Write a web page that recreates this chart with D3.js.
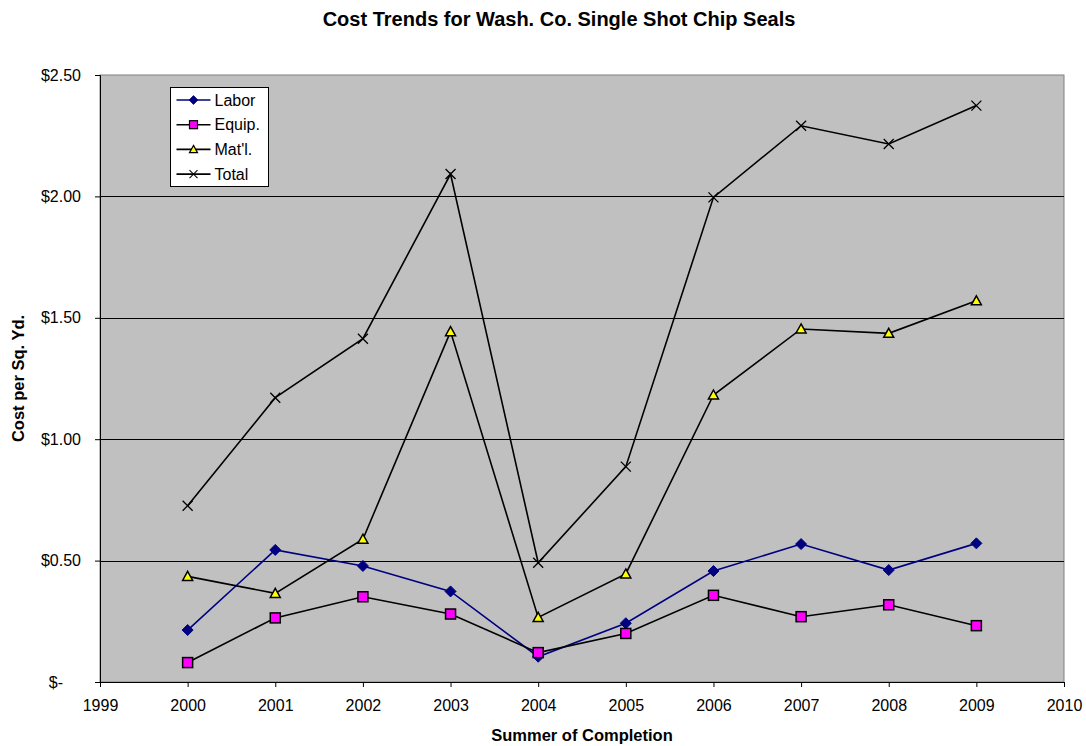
<!DOCTYPE html>
<html>
<head>
<meta charset="utf-8">
<script src="https://cdn.jsdelivr.net/npm/d3@7"></script>
<style>
	body { margin: 0; background: #fff; }
	svg text { font-family: "Liberation Sans", Arial, sans-serif; }
	.axis path, .axis line { stroke: #000; }
	.grid line { stroke: #000; stroke-width: 1; }
</style>
</head>
<body>
<svg id="chart" width="1086" height="746"></svg>
<script>
// data
var years = [2000, 2001, 2002, 2003, 2004, 2005, 2006, 2007, 2008, 2009];
var labor = [0.214, 0.544, 0.478, 0.373, 0.104, 0.242, 0.457, 0.568, 0.461, 0.571];
var equip = [0.080, 0.264, 0.351, 0.280, 0.121, 0.200, 0.357, 0.269, 0.318, 0.232];
var matl  = [0.435, 0.365, 0.588, 1.443, 0.266, 0.445, 1.182, 1.454, 1.436, 1.570];
var total = [0.726, 1.171, 1.414, 2.092, 0.491, 0.887, 1.996, 2.291, 2.216, 2.374];
var seriesNames = ["Labor", "Equip.", "Mat'l.", "Total"];
var xTicks = d3.range(1999, 2011);
var yTicks = [0, 0.5, 1.0, 1.5, 2.0, 2.5];

var svg = d3.select("#chart"),
	margin = {left: 100, top: 75, right: 22, bottom: 64},
	width = 1086 - margin.left - margin.right,
	height = 746 - margin.top - margin.bottom;

var x = d3.scaleLinear().domain([1999, 2010]).range([0, width]);
var y = d3.scaleLinear().domain([0, 2.5]).range([height, 0]);

var g = svg.append("g").attr("transform", "translate(" + margin.left + "," + margin.top + ")");

// plot area
g.append("rect")
	.attr("width", width).attr("height", height)
	.attr("fill", "#c0c0c0")
	.attr("stroke", "#808080").attr("stroke-width", 1);

// gridlines
g.append("g").attr("class", "grid")
	.selectAll("line")
	.data(yTicks.filter(function(d){ return d > 0 && d < 2.5; }))
	.enter().append("line")
	.attr("x1", 0).attr("x2", width)
	.attr("y1", function(d){ return Math.round(y(d)) + 0.5; })
	.attr("y2", function(d){ return Math.round(y(d)) + 0.5; });

// axes
var yAxis = g.append("g").attr("class", "axis")
	.call(d3.axisLeft(y).tickValues(yTicks).tickSize(5).tickPadding(14)
		.tickFormat(function(d){ return d === 0 ? "$-" : "$" + d.toFixed(2); }));
yAxis.selectAll("text").style("font-size", "16px").attr("fill", "#000");
yAxis.selectAll(".tick").filter(function(d){ return d === 0; })
	.select("text").attr("dx", "-18");

var xAxis = g.append("g").attr("class", "axis")
	.attr("transform", "translate(0," + height + ")")
	.call(d3.axisBottom(x).tickValues(xTicks).tickSize(5).tickPadding(13).tickFormat(d3.format("d")));
xAxis.selectAll("text").style("font-size", "16px").attr("fill", "#000");

// series
var series = [
	{name: seriesNames[0], values: labor, line: "#000080", marker: "diamond"},
	{name: seriesNames[1], values: equip, line: "#000000", marker: "square"},
	{name: seriesNames[2], values: matl,  line: "#000000", marker: "triangle"},
	{name: seriesNames[3], values: total, line: "#000000", marker: "cross"}
];

var line = d3.line()
	.x(function(d, i){ return x(years[i]); })
	.y(function(d){ return y(d); });

function drawMarker(sel, type) {
	if (type === "diamond") {
		sel.append("path").attr("d", "M0,-5.5L5.5,0L0,5.5L-5.5,0Z")
			.attr("fill", "#000080").attr("stroke", "#000080").attr("stroke-width", 1);
	} else if (type === "square") {
		sel.append("rect").attr("x", -5).attr("y", -5).attr("width", 10).attr("height", 10)
			.attr("fill", "#ff00ff").attr("stroke", "#000").attr("stroke-width", 1.5);
	} else if (type === "triangle") {
		sel.append("path").attr("d", "M0,-5L5,4L-5,4Z")
			.attr("fill", "#ffff00").attr("stroke", "#000").attr("stroke-width", 1.5);
	} else {
		sel.append("path").attr("d", "M-5,-5L5,5M-5,5L5,-5")
			.attr("fill", "none").attr("stroke", "#000").attr("stroke-width", 1.3);
	}
}

series.forEach(function(s){
	g.append("path")
		.datum(s.values)
		.attr("fill", "none")
		.attr("stroke", s.line)
		.attr("stroke-width", 1.6)
		.attr("d", line);
});
series.forEach(function(s){
	g.selectAll(".m-" + s.marker)
		.data(s.values)
		.enter().append("g")
		.attr("class", "m-" + s.marker)
		.attr("transform", function(d, i){ return "translate(" + x(years[i]) + "," + y(d) + ")"; })
		.each(function(){ drawMarker(d3.select(this), s.marker); });
});

// legend
var legend = svg.append("g").attr("transform", "translate(170.5,87.5)");
legend.append("rect").attr("width", 98).attr("height", 99)
	.attr("fill", "#fff").attr("stroke", "#000").attr("stroke-width", 1);
var items = legend.selectAll(".li").data(series).enter().append("g")
	.attr("transform", function(d, i){ return "translate(0," + (12.5 + i * 24.7) + ")"; });
items.append("line").attr("x1", 6).attr("x2", 40)
	.attr("stroke", function(d){ return d.line; }).attr("stroke-width", 1.6);
items.each(function(d){
	var m = d3.select(this).append("g");
	drawMarker(m, d.marker);
	m.attr("transform", "translate(23,0) scale(0.8)");
});
items.append("text").attr("x", 44).attr("dy", "0.35em")
	.style("font-size", "16px").text(function(d){ return d.name; });

// titles
svg.append("text").attr("x", 559).attr("y", 26).attr("text-anchor", "middle")
	.style("font-size", "20px").style("font-weight", "bold")
	.text("Cost Trends for Wash. Co. Single Shot Chip Seals");
svg.append("text").attr("x", margin.left + width / 2).attr("y", 741).attr("text-anchor", "middle")
	.style("font-size", "16.5px").style("font-weight", "bold")
	.text("Summer of Completion");
svg.append("text")
	.attr("transform", "translate(24," + (margin.top + height / 2) + ") rotate(-90)")
	.attr("text-anchor", "middle")
	.style("font-size", "16.5px").style("font-weight", "bold")
	.text("Cost per Sq. Yd.");
</script>
</body>
</html>
